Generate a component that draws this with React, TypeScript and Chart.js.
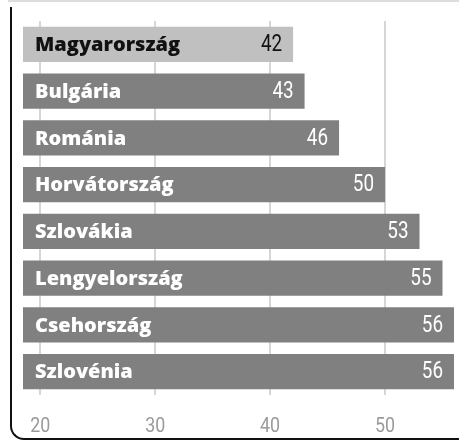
import React, { useEffect, useRef } from "react";
import { Chart, registerables } from "chart.js";

Chart.register(...registerables);

const categories = [
  "Magyarország",
  "Bulgária",
  "Románia",
  "Horvátország",
  "Szlovákia",
  "Lengyelország",
  "Csehország",
  "Szlovénia",
];
const values = [42, 43, 46, 50, 53, 55, 56, 56];
const tickValues = [20, 30, 40, 50];
const highlight = "Magyarország";

const NUM_FONT = "Roboto, sans-serif";
const LABEL_FONT = '"Open Sans", "Noto Sans", sans-serif';

function condensedText(ctx: any, text: string, x: number, y: number, align: string, sx: number) {
  ctx.save();
  ctx.translate(x, y);
  ctx.scale(sx, 1);
  ctx.textAlign = align;
  ctx.fillText(text, 0, 0);
  ctx.restore();
}

const barLabels = {
  id: "barLabels",
  afterDatasetsDraw(chart: any) {
    const ctx = chart.ctx;
    const meta = chart.getDatasetMeta(0);
    const left = chart.chartArea.left;
    meta.data.forEach((bar: any, i: number) => {
      const isHl = categories[i] === highlight;
      const color = isHl ? "#111111" : "#ffffff";
      ctx.save();
      ctx.fillStyle = color;
      ctx.textBaseline = "middle";
      ctx.textAlign = "left";
      ctx.font = `800 20px ${LABEL_FONT}`;
      ctx.fillText(categories[i], left + 12, bar.y + 1);
      ctx.font = `23px ${NUM_FONT}`;
      condensedText(ctx, String(values[i]), bar.x - 11, bar.y + 1, "right", 0.82);
      ctx.restore();
    });
    // axis tick labels
    const xs = chart.scales.x;
    ctx.save();
    ctx.fillStyle = "#9a9a9a";
    ctx.textBaseline = "middle";
    ctx.font = `400 21px ${NUM_FONT}`;
    tickValues.forEach((v) => {
      condensedText(ctx, String(v), xs.getPixelForValue(v), chart.chartArea.bottom + 32, "center", 0.85);
    });
    ctx.restore();
  },
};

export default function App() {
  const ref = useRef<HTMLCanvasElement | null>(null);
  useEffect(() => {
    if (!ref.current) return;
    const chart = new Chart(ref.current, {
      type: "bar",
      data: {
        labels: categories,
        datasets: [
          {
            data: values,
            backgroundColor: categories.map((c) => (c === highlight ? "#c0c0c0" : "#808080")),
            barPercentage: 0.75,
            categoryPercentage: 1,
            borderWidth: 0,
          },
        ],
      },
      options: {
        indexAxis: "y",
        animation: false,
        responsive: false,
        maintainAspectRatio: false,
        layout: { padding: { left: 23, right: 5, top: 21, bottom: 46 } },
        plugins: { legend: { display: false }, tooltip: { enabled: false } },
        scales: {
          x: {
            min: 18.5,
            max: 56,
            afterBuildTicks: (scale: any) => {
              scale.ticks = tickValues.map((v) => ({ value: v }));
            },
            border: { display: false },
            grid: { color: "#d6d6d6", lineWidth: 2, drawTicks: false },
            ticks: { display: false },
          },
          y: {
            display: false,
            grid: { display: false },
          },
        },
      },
      plugins: [barLabels],
    });
    return () => chart.destroy();
  }, []);

  return (
    <div style={{ position: "absolute", left: 0, top: 0, width: 459, height: 441, overflow: "hidden", background: "#fff" }}>
      <div style={{ position: "absolute", left: 8, right: 0, top: 0, height: 2, background: "#dddddd" }} />
      <div
        style={{
          position: "absolute",
          left: 10,
          top: 7,
          width: 480,
          height: 433,
          borderLeft: "2px solid #111",
          borderBottom: "2px solid #111",
          borderBottomLeftRadius: 14,
          boxSizing: "border-box",
        }}
      />
      <canvas ref={ref} width={459} height={441} style={{ position: "absolute", left: 0, top: 0, width: 459, height: 441 }} />
    </div>
  );
}
